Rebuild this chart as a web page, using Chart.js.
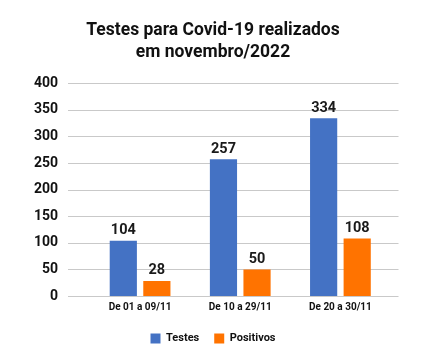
<!DOCTYPE html>
<html>
<head>
<meta charset="utf-8">
<script src="https://cdn.jsdelivr.net/npm/chart.js@4"></script>
<style>
html,body{margin:0;padding:0;background:#fff;}
#wrap{width:436px;height:360px;}
</style>
</head>
<body>
<div id="wrap"><canvas id="c" width="436" height="360"></canvas></div>
<script>
const categories = ['De 01 a 09/11', 'De 10 a 29/11', 'De 20 a 30/11'];
const testes = [104, 257, 334];
const positivos = [28, 50, 108];
const yTicks = [0, 50, 100, 150, 200, 250, 300, 350, 400];
const titleLines = ['Testes para Covid-19 realizados', 'em novembro/2022'];

const FONT = "Roboto, 'Noto Sans', sans-serif";

const gridPlugin = {
  id: 'extGrid',
  beforeDatasetsDraw(chart) {
    const y = chart.scales.y;
    const ctx = chart.ctx;
    ctx.save();
    ctx.strokeStyle = '#c9c9c9';
    ctx.lineWidth = 1.2;
    yTicks.forEach(v => {
      const py = Math.round(y.getPixelForValue(v)) + 0.5;
      ctx.beginPath();
      ctx.moveTo(chart.chartArea.left - 22, py);
      ctx.lineTo(chart.chartArea.right + 8, py);
      ctx.stroke();
    });
    ctx.restore();
  }
};

const labelPlugin = {
  id: 'valLabels',
  afterDatasetsDraw(chart) {
    const ctx = chart.ctx;
    ctx.save();
    ctx.fillStyle = '#1a1a1a';
    ctx.font = "bold 14.5px " + FONT;
    ctx.textAlign = 'center';
    ctx.textBaseline = 'bottom';
    chart.data.datasets.forEach((ds, i) => {
      chart.getDatasetMeta(i).data.forEach((bar, j) => {
        ctx.fillText(String(ds.data[j]), bar.x, bar.y - 3);
      });
    });
    ctx.restore();
  }
};

new Chart(document.getElementById('c'), {
  type: 'bar',
  data: {
    labels: categories,
    datasets: [
      { label: 'Testes', data: testes, backgroundColor: '#4472C4' },
      { label: 'Positivos', data: positivos, backgroundColor: '#FF7300' }
    ]
  },
  options: {
    responsive: false,
    animation: false,
    devicePixelRatio: 1,
    categoryPercentage: 0.67,
    barPercentage: 0.81,
    layout: { padding: { left: 0, right: 10, bottom: 6 } },
    plugins: {
      title: {
        display: true,
        text: titleLines,
        color: '#111',
        font: { family: FONT, size: 17.5, weight: 'bold', lineHeight: 1.25 },
        padding: { top: 20, bottom: 19.5 }
      },
      legend: {
        position: 'bottom',
        labels: {
          boxWidth: 10, boxHeight: 10,
          color: '#111',
          font: { family: FONT, size: 11, weight: 'bold' },
          padding: 15
        }
      },
      tooltip: { enabled: false }
    },
    scales: {
      x: {
        grid: { display: false, drawTicks: false },
        border: { display: false },
        ticks: { color: '#111', font: { family: FONT, size: 10, weight: 'bold' }, padding: 5 }
      },
      y: {
        min: 0, max: 400,
        afterBuildTicks(scale) { scale.ticks = yTicks.map(v => ({ value: v })); },
        afterFit(scale) { scale.width = 90; },
        grid: { display: false, drawTicks: false },
        border: { display: false },
        ticks: { color: '#111', font: { family: FONT, size: 14, weight: 'bold' }, padding: 32 }
      },
      yR: {
        position: 'right',
        display: true,
        min: 0, max: 400,
        afterFit(scale) { scale.width = 35.5; },
        grid: { display: false, drawTicks: false },
        border: { display: false },
        ticks: { display: false }
      }
    }
  },
  plugins: [gridPlugin, labelPlugin]
});
</script>
</body>
</html>
